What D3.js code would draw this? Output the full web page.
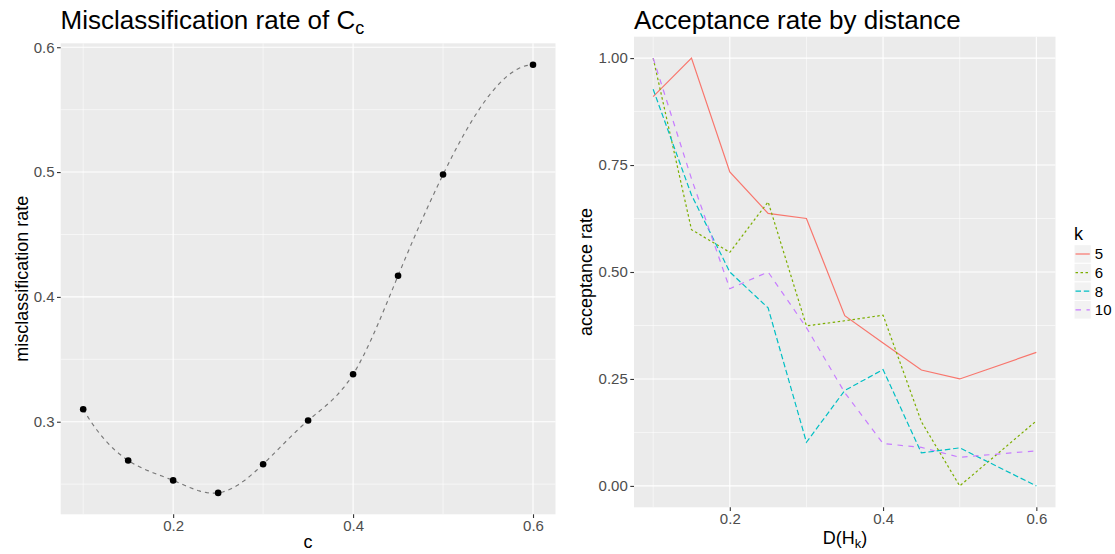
<!DOCTYPE html>
<html>
<head>
<meta charset="utf-8">
<script src="https://cdn.jsdelivr.net/npm/d3@7"></script>
<style>
  html, body { margin: 0; padding: 0; background: #ffffff; }
  svg { display: block; font-family: "Liberation Sans", Arial, Helvetica, sans-serif; }
</style>
</head>
<body>
<svg id="chart" width="1115" height="554"></svg>
<script>
// ---------------- data ----------------
const cValues = [0.10, 0.15, 0.20, 0.25, 0.30, 0.35, 0.40, 0.45, 0.50, 0.60];
const misRate = [0.310, 0.269, 0.253, 0.243, 0.266, 0.301, 0.338, 0.417, 0.498, 0.586];

const dValues = [0.10, 0.15, 0.20, 0.25, 0.30, 0.35, 0.40, 0.45, 0.50, 0.60];
const kLevels = ["5", "6", "8", "10"];
const acc5  = [0.910, 1.000, 0.734, 0.637, 0.625, 0.398, 0.334, 0.271, 0.250, 0.312];
const acc6  = [1.000, 0.599, 0.546, 0.664, 0.374, 0.386, 0.399, 0.150, 0.000, 0.152];
const acc8  = [0.927, 0.680, 0.500, 0.416, 0.102, 0.223, 0.272, 0.077, 0.089, 0.000];
const acc10 = [1.000, 0.718, 0.461, 0.500, 0.370, 0.218, 0.099, 0.090, 0.067, 0.082];

const leftXTicks = [0.2, 0.4, 0.6];
const leftXTickLabels = ["0.2", "0.4", "0.6"];
const leftYTicks = [0.3, 0.4, 0.5, 0.6];
const leftYTickLabels = ["0.3", "0.4", "0.5", "0.6"];
const rightXTicks = [0.2, 0.4, 0.6];
const rightXTickLabels = ["0.2", "0.4", "0.6"];
const rightYTicks = [0, 0.25, 0.5, 0.75, 1];
const rightYTickLabels = ["0.00", "0.25", "0.50", "0.75", "1.00"];

// ---------------- styling ----------------
const kColors = ["#F8766D", "#7CAE00", "#00BFC4", "#C77CFF"];
const kDash = ["none", "2.5,2.5", "5.5,2.8", "5.5,5.5"];
const panelBg = "#EBEBEB";
const tickTextColor = "#4D4D4D";
const tickColor = "#333333";
const tickFont = 15;
const axisTitleFont = 18;

const svg = d3.select("#chart");
svg.append("rect").attr("width", 1115).attr("height", 554).attr("fill", "#fff");

function expand(ext, f) {
  const r = ext[1] - ext[0];
  return [ext[0] - r * f, ext[1] + r * f];
}

// R's "fmm" cubic spline (as used by stats::spline) – rendering of the smooth interpolating curve
function fmmSpline(xs, ys) {
  const n = xs.length;
  const x = [0, ...xs], y = [0, ...ys];
  const b = new Array(n + 1).fill(0), c = new Array(n + 1).fill(0), d = new Array(n + 1).fill(0);
  const nm1 = n - 1;
  d[1] = x[2] - x[1];
  c[2] = (y[2] - y[1]) / d[1];
  for (let i = 2; i < n; i++) {
    d[i] = x[i + 1] - x[i];
    b[i] = 2 * (d[i - 1] + d[i]);
    c[i + 1] = (y[i + 1] - y[i]) / d[i];
    c[i] = c[i + 1] - c[i];
  }
  b[1] = -d[1];
  b[n] = -d[nm1];
  c[1] = 0; c[n] = 0;
  if (n > 3) {
    c[1] = c[3] / (x[4] - x[2]) - c[2] / (x[3] - x[1]);
    c[n] = c[nm1] / (x[n] - x[n - 2]) - c[n - 2] / (x[nm1] - x[n - 3]);
    c[1] = c[1] * d[1] * d[1] / (x[4] - x[1]);
    c[n] = -c[n] * d[nm1] * d[nm1] / (x[n] - x[n - 3]);
  }
  for (let i = 2; i <= n; i++) {
    const t = d[i - 1] / b[i - 1];
    b[i] = b[i] - t * d[i - 1];
    c[i] = c[i] - t * c[i - 1];
  }
  c[n] = c[n] / b[n];
  for (let i = nm1; i >= 1; i--) c[i] = (c[i] - d[i] * c[i + 1]) / b[i];
  b[n] = (y[n] - y[n - 1]) / d[n - 1] + d[n - 1] * (c[n - 1] + 2 * c[n]);
  for (let i = 1; i <= nm1; i++) {
    b[i] = (y[i + 1] - y[i]) / d[i] - d[i] * (c[i + 1] + 2 * c[i]);
    d[i] = (c[i + 1] - c[i]) / d[i];
    c[i] = 3 * c[i];
  }
  c[n] = 3 * c[n];
  d[n] = d[nm1];
  return function (u) {
    let i = 1;
    while (i < n && u > x[i + 1]) i++;
    const dx = u - x[i];
    return y[i] + dx * (b[i] + dx * (c[i] + dx * d[i]));
  };
}

function drawPanel(opts) {
  const { x, y, xTicks, xLabels, yTicks, yLabels } = opts;
  const g = svg.append("g");
  const [x0, x1] = x.range();
  const [y0, y1] = y.range();
  g.append("rect").attr("x", x0).attr("y", y1).attr("width", x1 - x0).attr("height", y0 - y1).attr("fill", panelBg);
  // minor grid
  const xMinor = [], yMinor = [];
  const xd = x.domain(), yd = y.domain();
  const xs = xTicks[1] - xTicks[0], ys = yTicks[1] - yTicks[0];
  for (let v = xTicks[0] - xs / 2; v <= xd[1]; v += xs) if (v >= xd[0]) xMinor.push(v);
  for (let v = yTicks[0] - ys / 2; v <= yd[1] + 1e-9; v += ys) if (v >= yd[0]) yMinor.push(v);
  g.selectAll(".xminor").data(xMinor).join("line")
    .attr("x1", d => x(d)).attr("x2", d => x(d)).attr("y1", y0).attr("y2", y1)
    .attr("stroke", "#fff").attr("stroke-width", 0.55);
  g.selectAll(".yminor").data(yMinor).join("line")
    .attr("x1", x0).attr("x2", x1).attr("y1", d => y(d)).attr("y2", d => y(d))
    .attr("stroke", "#fff").attr("stroke-width", 0.55);
  g.selectAll(".xmajor").data(xTicks).join("line")
    .attr("x1", d => x(d)).attr("x2", d => x(d)).attr("y1", y0).attr("y2", y1)
    .attr("stroke", "#fff").attr("stroke-width", 1.1);
  g.selectAll(".ymajor").data(yTicks).join("line")
    .attr("x1", x0).attr("x2", x1).attr("y1", d => y(d)).attr("y2", d => y(d))
    .attr("stroke", "#fff").attr("stroke-width", 1.1);

  const xAxis = svg.append("g").attr("transform", `translate(0,${y0})`)
    .call(d3.axisBottom(x).tickValues(xTicks).tickFormat((d, i) => xLabels[i]).tickSize(3.7).tickPadding(2.5));
  const yAxis = svg.append("g").attr("transform", `translate(${x0},0)`)
    .call(d3.axisLeft(y).tickValues(yTicks).tickFormat((d, i) => yLabels[i]).tickSize(3.7).tickPadding(2.5));
  [xAxis, yAxis].forEach(a => {
    a.select(".domain").remove();
    a.selectAll(".tick line").attr("stroke", tickColor).attr("stroke-width", 1.1);
    a.selectAll(".tick text").attr("fill", tickTextColor).style("font-size", tickFont + "px")
      .style("font-family", '"Liberation Sans", Arial, sans-serif');
  });
  return g;
}

// ---------------- left panel ----------------
const xL = d3.scaleLinear().domain(expand(d3.extent(cValues), 0.05)).range([60.7, 555.5]);
const yL = d3.scaleLinear().domain(expand(d3.extent(misRate), 0.05)).range([514.3, 43.3]);
const gL = drawPanel({ x: xL, y: yL, xTicks: leftXTicks, xLabels: leftXTickLabels, yTicks: leftYTicks, yLabels: leftYTickLabels });

const spl = fmmSpline(cValues, misRate);
const curveX = d3.range(cValues[0], cValues[cValues.length - 1] + 1e-9, 0.0025);
gL.append("path")
  .datum(curveX)
  .attr("d", d3.line().x(d => xL(d)).y(d => yL(spl(d))))
  .attr("fill", "none").attr("stroke", "#777777").attr("stroke-width", 1.15)
  .attr("stroke-dasharray", "4,4");
gL.selectAll("circle").data(cValues).join("circle")
  .attr("cx", d => xL(d)).attr("cy", (d, i) => yL(misRate[i])).attr("r", 3.3).attr("fill", "#000");

// titles
const tL = svg.append("text").attr("x", 60.5).attr("y", 28.5).style("font-size", "26px").attr("fill", "#000");
tL.append("tspan").text("Misclassification rate of C");
tL.append("tspan").attr("dy", 5).style("font-size", "18px").text("c");

svg.append("text").attr("x", 308).attr("y", 548).attr("text-anchor", "middle")
  .style("font-size", axisTitleFont + "px").text("c");
svg.append("text").attr("transform", `translate(28,${(514.3 + 43.3) / 2}) rotate(-90)`)
  .attr("text-anchor", "middle").style("font-size", axisTitleFont + "px").text("misclassification rate");

// ---------------- right panel ----------------
const xR = d3.scaleLinear().domain(expand(d3.extent(dValues), 0.05)).range([634, 1055.5]);
const yR = d3.scaleLinear().domain(expand([0, 1], 0.05)).range([507.3, 36.7]);
const gR = drawPanel({ x: xR, y: yR, xTicks: rightXTicks, xLabels: rightXTickLabels, yTicks: rightYTicks, yLabels: rightYTickLabels });

const series = [acc5, acc6, acc8, acc10];
const lineR = d3.line().x((d, i) => xR(dValues[i])).y(d => yR(d));
series.forEach((s, k) => {
  gR.append("path").datum(s).attr("d", lineR)
    .attr("fill", "none").attr("stroke", kColors[k]).attr("stroke-width", 1.2)
    .attr("stroke-dasharray", kDash[k]);
});

svg.append("text").attr("x", 634).attr("y", 28.5).style("font-size", "26px").text("Acceptance rate by distance");

const xtR = svg.append("text").attr("x", 845).attr("y", 544).attr("text-anchor", "middle")
  .style("font-size", axisTitleFont + "px");
xtR.append("tspan").text("D(H");
xtR.append("tspan").attr("dy", 4).style("font-size", "13px").text("k");
xtR.append("tspan").attr("dy", -4).text(")");
svg.append("text").attr("transform", `translate(592,${(507.3 + 36.7) / 2}) rotate(-90)`)
  .attr("text-anchor", "middle").style("font-size", axisTitleFont + "px").text("acceptance rate");

// ---------------- legend ----------------
const lg = svg.append("g").attr("transform", "translate(1074,0)");
lg.append("text").attr("x", 0).attr("y", 240).style("font-size", "18px").text("k");
const keyH = 18.6, keyW = 17.3, keyTop = 244.7;
kLevels.forEach((lab, k) => {
  const yy = keyTop + k * keyH;
  lg.append("rect").attr("x", 0).attr("y", yy).attr("width", keyW).attr("height", keyH)
    .attr("fill", "#F2F2F2").attr("stroke", "#fff").attr("stroke-width", 1);
  lg.append("line").attr("x1", 1.5).attr("x2", keyW - 1.5).attr("y1", yy + keyH / 2).attr("y2", yy + keyH / 2)
    .attr("stroke", kColors[k]).attr("stroke-width", 1.2).attr("stroke-dasharray", kDash[k]);
  lg.append("text").attr("x", keyW + 3.5).attr("y", yy + keyH / 2).attr("dy", "0.36em")
    .style("font-size", tickFont + "px").attr("fill", "#000").text(lab);
});
</script>
</body>
</html>
